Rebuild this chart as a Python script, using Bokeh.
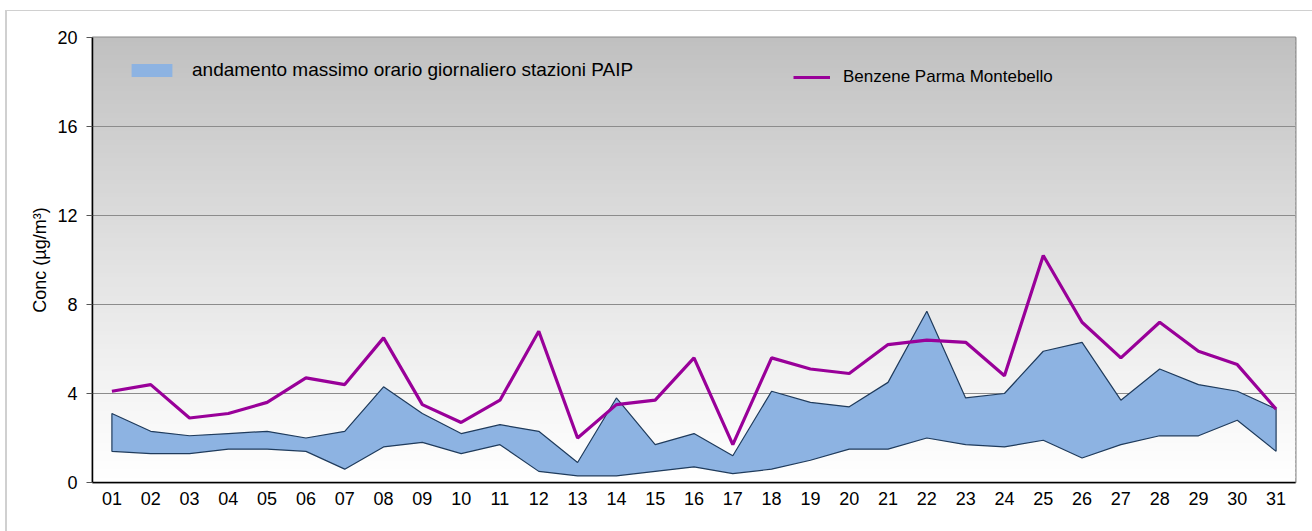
import numpy as np
from bokeh.plotting import figure
from bokeh.models import Legend, LegendItem, FixedTicker, Range1d, FactorRange
from bokeh.embed import file_html
from bokeh.resources import INLINE

days = ["%02d" % d for d in range(1, 32)]
benzene = [4.1, 4.4, 2.9, 3.1, 3.6, 4.7, 4.4, 6.5, 3.5, 2.7, 3.7, 6.8, 2.0, 3.5, 3.7, 5.6,
           1.7, 5.6, 5.1, 4.9, 6.2, 6.4, 6.3, 4.8, 10.2, 7.2, 5.6, 7.2, 5.9, 5.3, 3.3]
paip_max = [3.1, 2.3, 2.1, 2.2, 2.3, 2.0, 2.3, 4.3, 3.1, 2.2, 2.6, 2.3, 0.9, 3.8, 1.7, 2.2,
            1.2, 4.1, 3.6, 3.4, 4.5, 7.7, 3.8, 4.0, 5.9, 6.3, 3.7, 5.1, 4.4, 4.1, 3.3]
paip_min = [1.4, 1.3, 1.3, 1.5, 1.5, 1.4, 0.6, 1.6, 1.8, 1.3, 1.7, 0.5, 0.3, 0.3, 0.5, 0.7,
            0.4, 0.6, 1.0, 1.5, 1.5, 2.0, 1.7, 1.6, 1.9, 1.1, 1.7, 2.1, 2.1, 2.8, 1.4]
y_ticks = [0, 4, 8, 12, 16, 20]

FONT = "Liberation Sans"

p = figure(width=1312, height=531, x_range=FactorRange(*days), y_range=Range1d(0, 20),
           output_backend="svg", toolbar_location=None,
           min_border_left=92, min_border_right=17, min_border_top=37, min_border_bottom=49)
p.border_fill_color = None
p.styles = {
    "background": "linear-gradient(#d0d0d0,#d0d0d0) 5px 10px / 2px 100% no-repeat, "
                  "linear-gradient(#d0d0d0,#d0d0d0) 5px 10px / 100% 1px no-repeat, white"
}

# gradient background (grey at top to white at bottom)
n = 100
edges = np.linspace(0, 20, n + 1)
cols = []
for i in range(n):
    t = ((edges[i] + edges[i + 1]) / 2) / 20.0
    v = int(round(255 - 63 * t ** 1.1))
    cols.append("#%02x%02x%02x" % (v, v, v))
p.quad(left=0, right=len(days), bottom=edges[:-1], top=edges[1:] + 0.08, fill_color=cols,
       line_color=None, level="image")

p.background_fill_color = "white"
p.outline_line_color = "#8a8a8a"
p.outline_line_width = 2

p.xgrid.visible = False
p.ygrid.grid_line_color = "#8c8c8c"
p.ygrid.grid_line_width = 1
p.yaxis.ticker = FixedTicker(ticks=y_ticks)

area = p.varea(x=days, y1=paip_min, y2=paip_max, fill_color="#8db3e2")
xs = days + days[::-1]
ys = paip_max + paip_min[::-1]
p.patch(xs, ys, fill_alpha=0, line_color="#1f3b5c", line_width=1.2)
line = p.line(days, benzene, line_color="#990099", line_width=3.2)

for ax in (p.xaxis, p.yaxis):
    ax.axis_line_color = "black"
    ax.axis_line_width = 1.5
    ax.major_label_text_font = FONT
    ax.major_label_text_font_size = "18px"
    ax.major_label_text_color = "black"
    ax.minor_tick_line_color = None

p.xaxis.major_tick_line_color = None
p.xaxis.major_label_standoff = 3
p.yaxis.major_tick_out = 6
p.yaxis.major_tick_in = 0
p.yaxis.major_tick_line_color = "#555555"
p.yaxis.major_label_standoff = 9
p.yaxis.axis_label = "Conc (µg/m³)"
p.yaxis.axis_label_text_font = FONT
p.yaxis.axis_label_text_font_size = "18px"
p.yaxis.axis_label_text_font_style = "normal"
p.yaxis.axis_label_text_color = "black"
p.yaxis.axis_label_standoff = 4

leg1 = Legend(items=[LegendItem(label="andamento massimo orario giornaliero stazioni PAIP", renderers=[area])],
              location=(34, 401), glyph_width=51, glyph_height=16, label_standoff=15,
              label_text_font=FONT, label_text_font_size="19px", label_height=16,
              label_text_color="black",
              padding=0, margin=0, border_line_color=None, background_fill_alpha=0)
leg2 = Legend(items=[LegendItem(label="Benzene Parma Montebello", renderers=[line])],
              location=(701, 395), glyph_width=37, glyph_height=16, label_standoff=13,
              label_text_font=FONT, label_text_font_size="17px", label_height=16,
              label_text_color="black",
              padding=0, margin=0, border_line_color=None, background_fill_alpha=0)
p.add_layout(leg1, "center")
p.add_layout(leg2, "center")

open("out.html", "w").write(file_html(p, INLINE))
